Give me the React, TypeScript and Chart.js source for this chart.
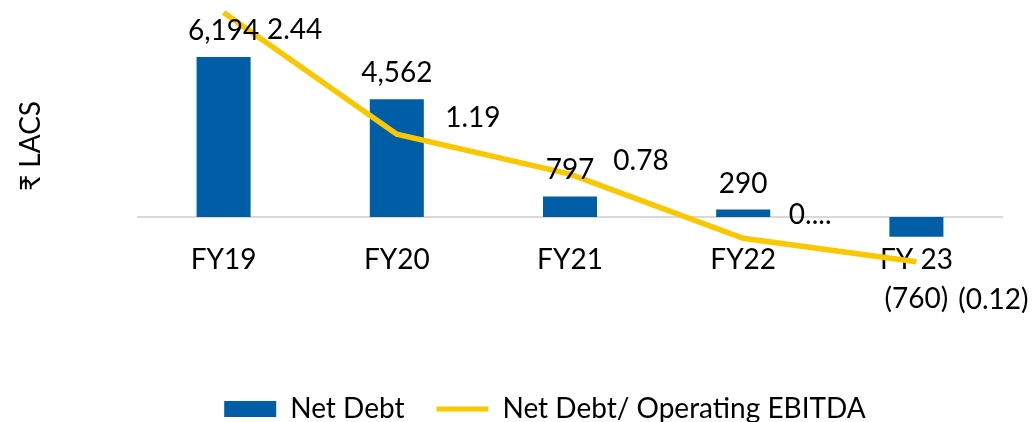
import { useEffect, useRef } from 'react';
import { Chart, registerables } from 'chart.js';

Chart.register(...registerables);

const categories = ['FY19', 'FY20', 'FY21', 'FY22', 'FY 23'];
const netDebt = [6194, 4562, 797, 290, -760];
const debtToEbitda = [2.44, 1.19, 0.78, 0.12, -0.12];
const netDebtLabels = ['6,194', '4,562', '797', '290', '(760)'];
const ratioLabels = ['2.44', '1.19', '0.78', '0....', '(0.12)'];
const seriesNames = ['Net Debt', 'Net Debt/ Operating EBITDA'];
const axisTitle = '₹ LACS';

const FONT = 'Lato, "Open Sans", sans-serif';
const FS = 28;
const BAR = '#005EA6';
const LINE = '#F9C800';

const ratioLabelOffsets = [
  [71, 17],
  [76, -16],
  [71, -13],
  [67, -23],
  [77, 38],
];

const zeroLinePlugin = {
  id: 'zeroLine',
  beforeDatasetsDraw(chart: any) {
    const { ctx, chartArea } = chart;
    const y = chart.scales.y.getPixelForValue(0);
    ctx.save();
    ctx.strokeStyle = '#D9D9D9';
    ctx.lineWidth = 2;
    ctx.beginPath();
    ctx.moveTo(chartArea.left, y);
    ctx.lineTo(chartArea.right, y);
    ctx.stroke();
    ctx.restore();
  },
};

const labelPlugin = {
  id: 'labels',
  afterDatasetsDraw(chart: any) {
    const ctx = chart.ctx;
    ctx.save();
    ctx.font = `${FS}px ${FONT}`;
    ctx.fillStyle = '#000';
    ctx.textAlign = 'center';
    ctx.textBaseline = 'middle';
    const barMeta = chart.getDatasetMeta(0);
    barMeta.data.forEach((el: any, i: number) => {
      const v = netDebt[i];
      const y = v >= 0 ? el.y - 26 : el.y + 62;
      ctx.fillText(netDebtLabels[i], el.x, y);
    });
    const lineMeta = chart.getDatasetMeta(1);
    lineMeta.data.forEach((el: any, i: number) => {
      const [dx, dy] = ratioLabelOffsets[i];
      ctx.fillText(ratioLabels[i], el.x + dx, el.y + dy);
    });
    ctx.translate(31, 146);
    ctx.rotate(-Math.PI / 2);
    ctx.fillText(axisTitle, 0, 0);
    ctx.restore();
  },
};

export default function App() {
  const ref = useRef<HTMLCanvasElement>(null);
  useEffect(() => {
    if (!ref.current) return;
    const chart = new Chart(ref.current, {
      type: 'bar',
      data: {
        labels: categories,
        datasets: [
          {
            type: 'bar',
            label: seriesNames[0],
            data: netDebt,
            backgroundColor: BAR,
            borderWidth: 0,
            barPercentage: 1,
            categoryPercentage: 0.312,
            yAxisID: 'y',
            order: 1,
            clip: false,
            pointStyle: 'rect',
          } as any,
          {
            type: 'line',
            label: seriesNames[1],
            data: debtToEbitda,
            borderColor: LINE,
            borderWidth: 5.5,
            pointRadius: 0,
            pointHoverRadius: 0,
            pointStyle: 'line',
            pointBorderColor: LINE,
            pointBorderWidth: 5,
            tension: 0,
            clip: false,
            yAxisID: 'y1',
            order: 0,
          } as any,
        ],
      },
      options: {
        animation: false,
        responsive: false,
        maintainAspectRatio: false,
        layout: { padding: { left: 58, right: 0, top: 7, bottom: -11 } },
        plugins: {
          tooltip: { enabled: false },
          legend: {
            position: 'bottom',
            labels: {
              usePointStyle: true,
              pointStyleWidth: 52,
              boxHeight: 16,
              padding: 32,
              color: '#000',
              font: { family: FONT, size: FS },
              sort: (a: any, b: any) => a.datasetIndex - b.datasetIndex,
            },
          },
        },
        scales: {
          x: {
            grid: { display: false },
            border: { display: false },
            ticks: { color: '#000', font: { family: FONT, size: FS }, padding: 0 },
            afterFit: (axis: any) => { axis.height = 128; },
          },
          y: {
            position: 'left',
            min: -697,
            max: 8130,
            ticks: { display: false },
            border: { display: false },
            grid: { display: false },
            afterFit: (axis: any) => { axis.width = 79; },
          },
          y1: {
            position: 'right',
            min: 0.154,
            max: 2.4974,
            ticks: { display: false },
            border: { display: false },
            grid: { display: false },
            afterFit: (axis: any) => { axis.width = 29; },
          },
        },
      },
      plugins: [zeroLinePlugin, labelPlugin],
    });
    return () => chart.destroy();
  }, []);
  return (
    <div style={{ position: 'absolute', left: 0, top: 0, width: 1032, height: 422, background: '#fff' }}>
      <canvas ref={ref} width={1032} height={422} style={{ display: 'block' }} />
    </div>
  );
}
